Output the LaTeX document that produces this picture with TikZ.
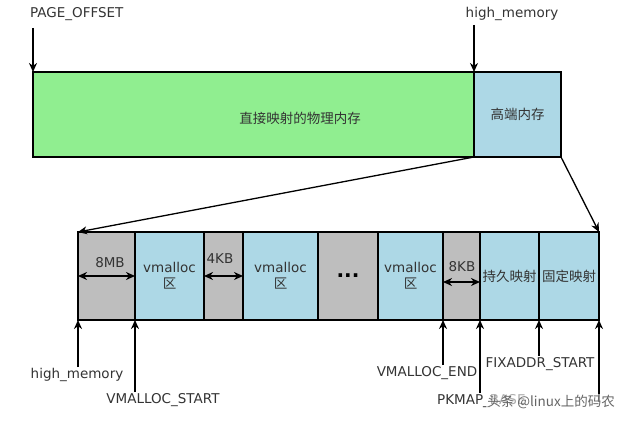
\documentclass[tikz,border=0pt]{standalone}
\usepackage{fontspec}
\setmainfont{DejaVu Sans}
\newfontfamily\cjk{Noto Sans CJK SC}
\usepackage{xcolor}
\usepackage{tikz}
\usetikzlibrary{arrows.meta}

\definecolor{mapgreen}{HTML}{90EE90}
\definecolor{mapblue}{HTML}{ADD8E6}
\definecolor{mapgray}{HTML}{BEBEBE}
\definecolor{labelgray}{HTML}{333333}

\begin{document}
\begin{tikzpicture}[x=1pt, y=-1pt, >={Stealth[length=9pt, width=8pt]},
  region/.style={draw, line width=1.3pt, anchor=north west, inner sep=0pt, outer sep=0pt,
    minimum height=88pt, text=labelgray, align=center, font=\fontsize{13.5}{16}\selectfont},
  addr/.style={text=labelgray, inner sep=1pt, font=\fontsize{13.5}{16}\selectfont},
  pointer/.style={->, line width=1.7pt},
  span/.style={<->, line width=1.7pt}]
\useasboundingbox (0,0) rectangle (640,423);

% Linear map of the kernel space
\node[region, fill=mapgreen, minimum width=441pt, minimum height=85pt] (direct) at (33,72) {};
\node[addr, font=\cjk\fontsize{13.5}{16}\selectfont] (directtxt) at (300,118) {直接映射的物理内存};
\node[region, fill=mapblue, minimum width=87pt, minimum height=85pt] (highmem) at (direct.north east) {{\cjk 高端内存}};

% Top pointers
\node[addr, anchor=west] (lblpo) at (29,14) {PAGE\_OFFSET};
\node[addr] (lblhm) at (512,14) {high\_memory};
\draw[pointer] ([yshift=-6pt]lblpo.south -| direct.north west) -- (direct.north west);
\draw[pointer] ([yshift=-3pt]lblhm.south -| direct.north east) -- (direct.north east);

% High memory, zoomed in
\node[region, fill=mapgray, minimum width=57pt] (guard) at (78,232) {};
\node[region, fill=mapblue, minimum width=69pt] (vmfirst) at (guard.north east) {vmalloc\\{\cjk 区}};
\node[region, fill=mapgray, minimum width=39pt] (gapfirst) at (vmfirst.north east) {};
\node[region, fill=mapblue, minimum width=75pt] (vmsecond) at (gapfirst.north east) {vmalloc\\{\cjk 区}};
\node[region, fill=mapgray, minimum width=60pt, font=\bfseries\fontsize{20}{20}\selectfont, text=black] (more) at (vmsecond.north east) {...};
\node[region, fill=mapblue, minimum width=65pt] (vmlast) at (more.north east) {vmalloc\\{\cjk 区}};
\node[region, fill=mapgray, minimum width=37pt] (gaplast) at (vmlast.north east) {};
\node[region, fill=mapblue, minimum width=59pt] (pkmap) at (gaplast.north east) {{\cjk 持久映射}};
\node[region, fill=mapblue, minimum width=60pt] (fixmap) at (pkmap.north east) {{\cjk 固定映射}};

% Zoom lines
\draw[->, line width=1.3pt] (direct.south east) -- (guard.north west);
\draw[->, line width=1.3pt] (highmem.south east) -- (fixmap.north east);

% Gap sizes
\node[addr] (sizeguard) at (110,263) {8MB};
\node[addr] (sizefirst) at (220,259) {4KB};
\node[addr] (sizelast) at (462,267) {8KB};
\draw[span] (guard.west) -- (guard.east);
\draw[span] (gapfirst.west) -- (gapfirst.east);
\draw[span] ([yshift=-6pt]gaplast.west) -- ([yshift=-6pt]gaplast.east);

% Bottom pointers
\node[addr] (lblhigh) at (77,375) {high\_memory};
\node[addr] (lblvstart) at (163,400) {VMALLOC\_START};
\node[addr] (lblvend) at (427,373) {VMALLOC\_END};
\node[addr, anchor=west] (lblpkmap) at (436,401) {PKMAP\_BASE};
\node[addr] (lblfix) at (540,364) {FIXADDR\_START};
\coordinate (fixend) at (599,402);
\draw[pointer] (lblhigh.north -| guard.south west) -- (guard.south west);
\draw[pointer] (lblvstart.north -| vmfirst.south west) -- (vmfirst.south west);
\draw[pointer] (lblvend.north -| gaplast.south west) -- (gaplast.south west);
\draw[pointer] (lblpkmap.north -| pkmap.south west) -- (pkmap.south west);
\draw[pointer] (lblfix.north -| fixmap.south west) -- (fixmap.south west);
\draw[pointer] (fixend) -- (fixmap.south east);

% Watermark
\node[text=black!60, fill=white, fill opacity=0.6, text opacity=1, inner sep=1pt,
  font=\cjk\fontsize{13.5}{15}\selectfont] (watermark) at (551,402) {头条 @linux上的码农};
\end{tikzpicture}
\end{document}
